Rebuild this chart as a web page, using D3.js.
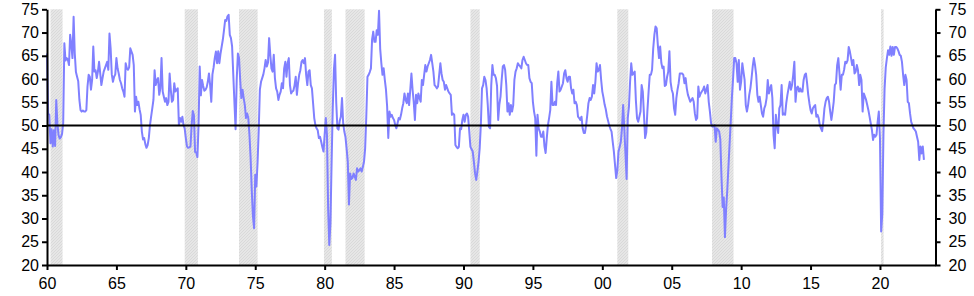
<!DOCTYPE html>
<html>
<head>
<meta charset="utf-8">
<script src="https://cdn.jsdelivr.net/npm/d3@7"></script>
<style>
  body { margin: 0; background: #fff; }
  svg text { font-family: "Liberation Sans", Arial, sans-serif; font-size: 16px; fill: #000; }
</style>
</head>
<body>
<div id="chart"></div>
<script>
// monthly index values, one array per decade, starting Jan 1960
const values1960s = [
  65.5, 52.6, 52.3, 46.2, 49.2, 45.5, 49.0, 45.6, 55.5, 50.4, 47.9, 47.2,
  47.5, 48.2, 50.5, 67.7, 64.0, 64.5, 64.2, 63.0, 69.5, 67.5, 64.5, 73.4,
  65.5, 61.5, 60.5, 59.5, 55.5, 53.3, 53.0, 53.2, 53.0, 53.0, 53.3, 58.4,
  60.9, 60.5, 57.7, 59.8, 67.0, 61.6, 61.9, 60.2, 61.6, 63.7, 61.2, 58.7,
  60.2, 61.6, 62.3, 63.0, 63.7, 62.0, 69.8, 66.6, 61.0, 59.4, 60.5, 61.0,
  64.5, 62.3, 61.2, 59.8, 59.1, 58.0, 57.3, 56.2, 63.4, 62.3, 62.0, 62.5,
  66.6, 65.9, 65.2, 63.0, 53.0, 56.2, 54.4, 55.1, 53.5, 52.3, 48.7, 47.0,
  47.3, 46.0, 45.2, 45.8, 47.3, 50.1, 51.9, 53.7, 55.5, 61.9, 58.7, 59.8,
  60.2, 56.6, 58.0, 64.5, 57.3, 56.2, 55.1, 55.9, 54.4, 55.1, 61.2, 57.7,
  55.1, 55.5, 59.1, 57.3, 57.7, 58.0, 50.1, 51.6, 50.8, 51.9, 50.1, 49.4
]
const values1970s = [
  47.3, 45.5, 45.2, 45.3, 45.5, 50.0, 53.1, 52.2, 44.3, 44.2, 43.2, 50.0,
  62.7, 56.5, 59.8, 58.5, 57.5, 57.7, 58.2, 59.4, 61.2, 58.7, 55.1, 61.0,
  62.5, 64.5, 65.9, 63.4, 66.0, 63.4, 65.5, 67.0, 68.5, 70.5, 72.7, 72.5,
  73.5, 73.8, 69.5, 68.8, 67.0, 61.0, 55.0, 49.2, 60.0, 65.5, 64.5, 59.8,
  55.9, 57.7, 55.9, 54.4, 51.6, 52.6, 51.6, 48.0, 43.0, 36.0, 30.5, 27.9,
  39.4, 36.9, 42.0, 49.0, 57.7, 59.4, 60.2, 61.0, 62.3, 64.1, 62.7, 63.5,
  68.8, 65.2, 62.3, 61.6, 65.2, 60.2, 58.0, 57.3, 55.5, 56.6, 57.3, 59.1,
  58.0, 62.3, 63.7, 60.5, 63.4, 64.5, 58.7, 56.9, 57.3, 57.5, 58.7, 60.5,
  56.6, 59.1, 60.9, 61.9, 63.7, 64.1, 63.4, 64.5, 60.9, 58.7, 61.6, 61.9,
  58.7, 58.0, 54.8, 51.6, 50.1, 49.4, 49.0, 47.3, 47.6, 46.5, 45.4, 44.4
]
const values1980s = [
  48.0, 51.6, 48.0, 32.2, 24.3, 29.0, 42.0, 53.8, 62.0, 65.2, 55.0, 49.4,
  49.1, 51.0, 51.9, 55.9, 50.5, 48.7, 47.5, 45.0, 42.2, 33.0, 39.7, 38.5,
  38.7, 39.7, 39.0, 38.3, 40.8, 40.1, 40.4, 40.8, 40.1, 41.1, 42.2, 45.1,
  52.0, 60.5, 60.9, 61.5, 62.3, 68.5, 70.2, 68.0, 68.0, 70.5, 69.5, 74.7,
  66.5, 63.4, 60.9, 62.3, 59.8, 57.7, 54.1, 47.3, 53.0, 51.9, 52.3, 51.6,
  51.2, 50.1, 49.4, 50.5, 51.6, 51.3, 52.3, 53.7, 54.8, 56.9, 55.5, 54.8,
  56.9, 54.4, 57.7, 61.2, 57.7, 55.1, 51.2, 56.6, 54.8, 56.9, 55.9, 55.1,
  59.8, 58.7, 60.9, 63.0, 61.6, 62.7, 63.4, 64.1, 65.2, 63.4, 61.6, 58.7,
  58.4, 58.0, 58.4, 60.9, 63.4, 61.2, 59.8, 59.4, 57.7, 58.7, 58.0, 57.3,
  56.9, 56.6, 52.3, 52.6, 52.3, 45.8, 45.4, 45.1, 45.4, 49.4, 49.2, 51.2
]
const values1990s = [
  52.3, 50.8, 52.3, 52.6, 51.9, 48.7, 45.4, 44.9, 44.4, 42.2, 39.7, 38.3,
  40.1, 42.2, 45.1, 50.1, 58.0, 58.7, 60.5, 59.8, 58.0, 54.4, 49.7, 49.4,
  58.7, 63.0, 60.9, 60.9, 60.2, 58.5, 51.2, 54.5, 56.2, 59.8, 62.7, 63.0,
  62.0, 58.7, 53.0, 54.8, 52.3, 54.4, 53.0, 54.4, 59.8, 61.6, 62.3, 63.4,
  63.0, 62.7, 62.3, 64.1, 64.8, 64.1, 63.4, 63.0, 63.0, 60.2, 59.4, 59.1,
  55.1, 53.0, 51.6, 43.5, 52.3, 49.4, 48.7, 47.6, 47.6, 48.7, 45.5, 44.1,
  47.3, 50.1, 51.6, 53.3, 59.4, 54.4, 54.4, 55.1, 54.4, 59.1, 61.6, 57.3,
  57.7, 58.4, 59.1, 61.2, 61.9, 60.2, 59.4, 60.5, 60.5, 58.0, 56.9, 57.7,
  54.8, 55.1, 54.4, 51.9, 51.6, 51.2, 51.9, 49.4, 48.4, 48.4, 50.1, 52.3,
  54.8, 55.9, 55.5, 56.2, 58.7, 56.9, 59.4, 63.4, 61.6, 61.9, 63.0, 59.8
]
const values2000s = [
  57.3, 56.0, 54.5, 53.5, 52.0, 51.0, 50.0, 49.3, 48.7, 46.5, 44.4, 41.5,
  38.7, 40.4, 44.4, 45.4, 46.5, 49.4, 54.4, 49.4, 44.0, 38.5, 51.6, 54.0,
  59.4, 63.4, 60.9, 61.2, 61.6, 55.5, 51.6, 50.8, 51.9, 53.0, 58.7, 57.3,
  52.3, 47.3, 48.5, 53.3, 57.3, 60.9, 60.9, 62.0, 66.6, 69.5, 71.3, 70.9,
  67.3, 64.5, 67.0, 63.5, 62.3, 62.7, 58.5, 58.7, 60.5, 61.6, 66.0, 59.4,
  57.7, 56.9, 53.7, 52.3, 55.9, 57.7, 59.1, 61.2, 61.2, 61.2, 60.9, 59.1,
  60.2, 58.0, 56.6, 55.9, 55.1, 55.5, 55.9, 55.1, 52.6, 51.2, 51.6, 58.4,
  56.2, 56.9, 57.3, 57.7, 58.4, 56.9, 57.7, 58.7, 55.1, 53.0, 50.5, 49.8,
  49.8, 50.1, 46.5, 49.4, 49.1, 48.7, 47.0, 39.0, 32.5, 34.5, 26.0, 32.0,
  36.0, 41.0, 46.0, 50.8, 56.0, 60.0, 64.5, 64.5, 63.4, 59.4, 64.1, 57.7
]
const values2010s = [
  59.4, 63.4, 61.6, 59.8, 54.4, 53.0, 54.4, 56.6, 58.0, 60.2, 62.7, 64.5,
  63.0, 60.9, 56.6, 55.1, 56.2, 54.4, 52.6, 51.9, 53.7, 54.4, 55.9, 59.8,
  56.9, 58.0, 58.7, 55.9, 48.0, 45.1, 52.3, 50.1, 48.4, 53.7, 54.4, 58.7,
  52.3, 52.6, 52.3, 54.8, 56.6, 58.0, 59.4, 57.7, 58.7, 60.9, 63.7, 55.1,
  58.0, 58.4, 57.3, 58.0, 57.3, 57.3, 59.8, 60.9, 61.2, 59.1, 56.6, 54.8,
  53.3, 52.6, 53.7, 54.1, 54.4, 51.9, 52.3, 51.6, 50.1, 49.4, 48.8, 50.8,
  53.7, 55.1, 55.9, 56.2, 55.1, 53.0, 51.2, 53.0, 55.1, 58.7, 59.1, 63.0,
  64.5, 61.2, 57.7, 60.9, 60.9, 62.0, 63.7, 63.4, 64.0, 66.9, 65.9, 64.5,
  63.0, 64.1, 61.2, 61.6, 63.0, 61.9, 58.7, 60.9, 59.8, 53.0, 56.9, 56.2,
  55.5, 54.4, 53.3, 51.9, 50.5, 49.1, 46.9, 48.0, 47.6, 48.0, 50.8, 53.0
]
const values2020s = [
  47.3, 27.2, 31.0, 48.0, 58.0, 62.5, 64.5, 66.2, 65.2, 67.0, 65.0, 66.9,
  65.2, 66.9, 66.9, 66.6, 66.0, 65.2, 65.0, 63.7, 60.9, 58.7, 60.9, 59.8,
  55.1, 54.8, 52.6, 50.8, 50.1, 49.4, 49.1, 48.7, 47.6, 46.5, 42.6, 45.5,
  44.0, 45.5, 42.6
]
const startYear = 1960

// US recessions (decimal years)
const recessionStarts = [1960.25, 1969.92, 1973.83, 1979.95, 1981.5, 1990.5, 2001.08, 2007.9, 2020.08]
const recessionEnds   = [1961.12, 1970.87, 1975.17, 1980.52, 1982.88, 1991.17, 2001.87, 2009.45, 2020.26]

const xTicks = [1960, 1965, 1970, 1975, 1980, 1985, 1990, 1995, 2000, 2005, 2010, 2015, 2020]
const yTicks = [20, 25, 30, 35, 40, 45, 50, 55, 60, 65, 70, 75]

const W = 974
const H = 296
const plotLeft = 47
const plotRight = 935.5
const plotTop = 9.3
const plotBottom = 265

const values = [].concat(values1960s, values1970s, values1980s, values1990s, values2000s, values2010s, values2020s)
const series = values.map((v, i) => ({ date: startYear + i / 12, value: v }))

const svg = d3.select('#chart')
  .append('svg')
  .attr('width', W)
  .attr('height', H)

// scales
const x = d3.scaleLinear().domain([1960, 2024]).range([plotLeft, plotRight])
const y = d3.scaleLinear().domain([20, 75]).range([plotBottom, plotTop])

// hatched grey for recessions
const pat = svg.append('defs').append('pattern')
  .attr('id', 'hatch')
  .attr('patternUnits', 'userSpaceOnUse')
  .attr('width', 3)
  .attr('height', 3)
pat.append('rect').attr('width', 3).attr('height', 3).attr('fill', '#e6e6e6')
pat.append('path').attr('d', 'M0,3 L3,0').attr('stroke', '#d6d6d6').attr('stroke-width', 0.8)

svg.selectAll('rect.recession')
  .data(recessionStarts.map((s, i) => [s, recessionEnds[i]]))
  .enter()
  .append('rect')
  .attr('class', 'recession')
  .attr('x', d => x(d[0]))
  .attr('width', d => x(d[1]) - x(d[0]))
  .attr('y', plotTop)
  .attr('height', plotBottom - plotTop)
  .attr('fill', 'url(#hatch)')

// series
const line = d3.line()
  .x(d => x(d.date))
  .y(d => y(d.value))

svg.append('path')
  .datum(series)
  .attr('d', line)
  .attr('fill', 'none')
  .attr('stroke', '#8080ff')
  .attr('stroke-width', 2)
  .attr('stroke-linejoin', 'round')

// 50 line
svg.append('line')
  .attr('x1', plotLeft)
  .attr('x2', plotRight)
  .attr('y1', y(50))
  .attr('y2', y(50))
  .attr('stroke', '#000')
  .attr('stroke-width', 2)

// axes
svg.append('g')
  .attr('transform', `translate(${plotLeft},0)`)
  .call(d3.axisLeft(y).tickValues(yTicks).tickSize(5).tickSizeOuter(0).tickPadding(3))

svg.append('g')
  .attr('transform', `translate(${plotRight},0)`)
  .call(d3.axisRight(y).tickValues(yTicks).tickSize(5).tickSizeOuter(0).tickPadding(8))

svg.append('g')
  .attr('transform', `translate(0,${plotBottom})`)
  .call(d3.axisBottom(x).tickValues(xTicks).tickSize(5).tickSizeOuter(0).tickPadding(8)
    .tickFormat(d => String(d % 100).padStart(2, '0')))

svg.selectAll('.domain').attr('stroke', '#000').attr('stroke-width', 2)
svg.selectAll('.tick line').attr('stroke', '#000').attr('stroke-width', 2)
svg.selectAll('.tick text')
  .style('font-family', '"Liberation Sans", Arial, sans-serif')
  .style('font-size', '16px')
  .attr('fill', '#000')
</script>
</body>
</html>
